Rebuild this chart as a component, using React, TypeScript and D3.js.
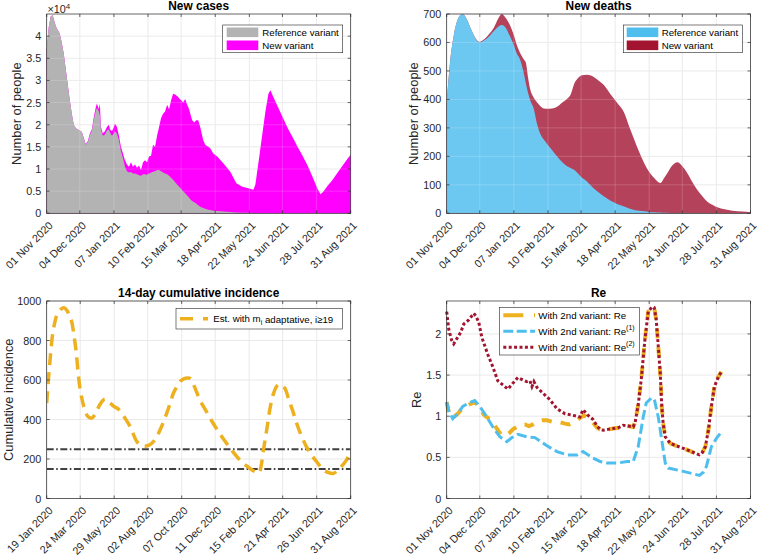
import React from 'react';
import * as d3 from 'd3';

// ---------- tick labels ----------
const casesTicks = ['01 Nov 2020', '04 Dec 2020', '07 Jan 2021', '10 Feb 2021', '15 Mar 2021', '18 Apr 2021', '22 May 2021', '24 Jun 2021', '28 Jul 2021', '31 Aug 2021'];
const incTicks = ['19 Jan 2020', '24 Mar 2020', '29 May 2020', '02 Aug 2020', '07 Oct 2020', '11 Dec 2020', '15 Feb 2021', '21 Apr 2021', '26 Jun 2021', '31 Aug 2021'];
const casesYTicks = [0, 5000, 10000, 15000, 20000, 25000, 30000, 35000, 40000];
const deathsYTicks = [0, 100, 200, 300, 400, 500, 600, 700];
const incYTicks = [0, 200, 400, 600, 800, 1000];
const reYTicks = [0, 0.5, 1, 1.5, 2];

// ---------- new cases (days since 01 Nov 2020) ----------
const casesDay = [0, 2, 4, 6, 8, 10, 13, 15, 17, 20, 23, 25, 27, 29, 32, 35, 37, 39, 41, 43, 45, 47, 49, 50, 52, 53, 54, 56, 58, 60, 62, 63, 65, 67, 68, 70, 72, 74, 76, 78, 80, 82, 84, 86, 88, 90, 92, 94, 96, 98, 100, 102, 104, 106, 108, 110, 112, 114, 116, 118, 120, 122, 124, 126, 128, 130, 132, 134, 136, 138, 140, 142, 143, 145, 147, 149, 151, 153, 156, 158, 161, 163, 166, 170, 176, 183, 189, 195, 200, 206, 208, 212, 215, 218, 221, 223, 226, 230, 235, 240, 245, 250, 255, 260, 265, 270, 273, 276, 280, 285, 290, 295, 300, 303];
const casesTotal = [37000, 42000, 44500, 44700, 43000, 41700, 40600, 38500, 36000, 30800, 25600, 22500, 20000, 19200, 18800, 18400, 17000, 15600, 16300, 18000, 19000, 21800, 24000, 24800, 23500, 24800, 19500, 18000, 18500, 19500, 20000, 19000, 18500, 19500, 20300, 19500, 17500, 15000, 13500, 12000, 11000, 10500, 11500, 10500, 11000, 10300, 10800, 9800, 11500, 12000, 11500, 12800, 13000, 15500, 15000, 17500, 19500, 21500, 22500, 23000, 24500, 23500, 25500, 27000, 26800, 26500, 26000, 25500, 25000, 25800, 24500, 23500, 22600, 21000, 20500, 21000, 21000, 19500, 16500, 15500, 15000, 14700, 13500, 12800, 11300, 9400, 6800, 6000, 5700, 5300, 6500, 13000, 18000, 23000, 27000, 27800, 26200, 24200, 21800, 19300, 17200, 15000, 13000, 10800, 8200, 5500, 4300, 5000, 6200, 7600, 9200, 10800, 12400, 13200];
const casesRef = [37000, 42000, 44500, 44700, 43000, 41700, 40600, 38500, 36000, 30800, 25600, 22500, 20000, 19200, 18800, 18400, 16900, 15500, 16100, 17700, 18700, 21300, 23200, 23800, 23000, 22000, 19000, 17500, 17800, 18700, 19000, 18300, 17500, 18000, 18500, 18000, 16500, 14000, 12500, 10500, 9500, 9200, 9300, 9000, 9000, 8800, 8600, 8500, 8800, 8800, 8700, 9000, 9200, 9400, 9500, 9800, 9800, 9500, 9200, 9000, 8800, 8500, 8000, 7600, 7000, 6500, 6000, 5500, 5000, 4500, 4000, 3500, 3200, 2800, 2500, 2200, 1800, 1500, 1200, 1000, 800, 750, 600, 500, 400, 280, 200, 150, 100, 60, 50, 40, 30, 25, 20, 15, 10, 8, 6, 5, 4, 3, 2, 2, 1, 1, 1, 1, 1, 1, 0, 0, 0, 0];

// ---------- new deaths (days since 01 Nov 2020) ----------
const deathsDay = [0, 3, 7, 10, 13, 16, 20, 25, 30, 33, 37, 43, 47, 52, 55, 58, 62, 67, 70, 73, 77, 79, 81, 83, 87, 90, 93, 97, 100, 105, 110, 115, 120, 124, 127, 131, 135, 140, 143, 147, 152, 157, 163, 170, 177, 182, 187, 192, 197, 202, 207, 213, 217, 220, 225, 230, 235, 240, 245, 250, 255, 260, 265, 270, 277, 285, 295, 303];
const deathsTotal = [382, 518, 624, 671, 694, 700, 682, 641, 609, 602, 610, 632, 652, 688, 700, 690, 668, 625, 590, 565, 540, 528, 480, 440, 405, 390, 378, 368, 367, 368, 374, 388, 402, 420, 453, 475, 485, 487, 485, 478, 465, 450, 420, 388, 353, 305, 259, 215, 176, 145, 124, 106, 125, 141, 168, 179, 165, 141, 110, 82, 60, 41, 30, 21, 14, 9, 6, 4];
const deathsRef = [382, 518, 624, 671, 694, 700, 682, 641, 607, 600, 607, 624, 640, 657, 661, 655, 630, 590, 560, 541, 490, 455, 424, 400, 365, 315, 282, 258, 244, 222, 200, 180, 165, 158, 153, 140, 125, 112, 100, 86, 72, 59, 45, 33, 24, 17, 12, 9, 7, 5, 4, 3, 2, 2, 1, 1, 1, 1, 0, 0, 0, 0, 0, 0, 0, 0, 0, 0];

// ---------- 14-day cumulative incidence (days since 19 Jan 2020) ----------
const incDay = [0, 6, 13, 22, 33, 45, 55, 65, 74, 80, 87, 95, 103, 113, 123, 131, 139, 152, 162, 175, 183, 191, 200, 207, 214, 220, 227, 233, 240, 246, 253, 259, 266, 273, 279, 287, 297, 310, 323, 336, 349, 362, 375, 388, 400, 407, 411, 414, 417, 421, 425, 429, 433, 440, 447, 451, 455, 462, 470, 478, 485, 494, 504, 514, 524, 530, 537, 546, 556, 564, 573, 582, 590];
const incValue = [483, 686, 856, 941, 966, 924, 788, 551, 449, 415, 407, 430, 475, 503, 483, 465, 453, 407, 364, 288, 270, 265, 272, 288, 315, 347, 390, 432, 485, 534, 568, 593, 606, 610, 607, 565, 500, 440, 381, 328, 280, 235, 195, 165, 142, 132, 128, 140, 178, 250, 315, 381, 450, 530, 570, 577, 575, 559, 500, 440, 381, 320, 263, 220, 186, 165, 144, 132, 127, 140, 165, 195, 245];
const incThresholds = [250, 150];

// ---------- Re (days since 01 Nov 2020) ----------
const reDay = [0, 2, 5, 7, 11, 14, 17, 22, 27, 29, 32, 35, 41, 46, 51, 56, 61, 66, 71, 76, 80, 83, 85, 87, 90, 96, 103, 110, 118, 126, 133, 136, 141, 146, 150, 153, 156, 161, 166, 171, 176, 181, 186, 188, 191, 194, 197.6, 201, 205, 207, 209, 211, 213, 214.5, 216, 218, 223, 229, 236, 244, 252, 255, 258, 261, 264, 267, 271, 274];
const re2 = [2.27, 2.06, 1.92, 1.88, 1.96, 2.02, 2.12, 2.17, 2.25, 2.22, 2.14, 1.96, 1.75, 1.6, 1.43, 1.38, 1.33, 1.4, 1.47, 1.44, 1.42, 1.43, 1.36, 1.42, 1.35, 1.28, 1.2, 1.09, 1.03, 1.01, 0.99, 1.08, 1.01, 0.96, 0.88, 0.84, 0.83, 0.84, 0.85, 0.86, 0.89, 0.88, 0.87, 0.93, 1.14, 1.44, 1.92, 2.27, 2.33, 2.32, 2.17, 1.85, 1.52, 1.12, 0.9, 0.75, 0.67, 0.64, 0.61, 0.57, 0.53, 0.56, 0.63, 0.83, 1.12, 1.36, 1.48, 1.54];
const re1Day = [0, 2, 6, 11, 16, 22, 28, 33, 40, 46, 53, 60, 65, 71, 80, 88, 93, 100, 110, 120, 130, 136, 146, 153, 160, 170, 180, 186, 191, 196, 199, 204, 207, 211, 214.5, 218, 221, 236, 252, 256, 259, 264, 269, 274];
const re1 = [1.17, 1.07, 0.97, 1.03, 1.12, 1.16, 1.19, 1.12, 0.99, 0.87, 0.75, 0.69, 0.74, 0.78, 0.75, 0.74, 0.7, 0.64, 0.57, 0.53, 0.53, 0.57, 0.49, 0.45, 0.43, 0.43, 0.45, 0.45, 0.63, 0.99, 1.16, 1.22, 1.21, 0.99, 0.71, 0.43, 0.37, 0.33, 0.28, 0.32, 0.39, 0.63, 0.73, 0.81];
const reMixDay = [0, 2, 6, 11, 16, 22, 28, 33, 37, 41, 46, 50, 54, 58, 62, 66, 70, 74, 78, 82, 86, 90, 95, 100, 106, 112, 118, 122, 128, 133, 137, 141, 146, 150, 153, 156, 161, 166, 171, 176, 181, 186, 188, 191, 194, 197.6, 201, 205, 207, 209, 211, 213, 214.5, 216, 218, 223, 229, 236, 244, 252, 255, 258, 261, 264, 267, 271, 274];
const reMix = [1.17, 1.05, 0.98, 1.03, 1.1, 1.14, 1.17, 1.1, 1.02, 0.98, 0.92, 0.85, 0.78, 0.76, 0.79, 0.84, 0.87, 0.9, 0.9, 0.88, 0.9, 0.93, 0.95, 0.95, 0.93, 0.93, 0.91, 0.9, 0.93, 0.98, 1.01, 0.98, 0.92, 0.86, 0.84, 0.83, 0.84, 0.85, 0.86, 0.89, 0.88, 0.87, 0.93, 1.14, 1.44, 1.92, 2.27, 2.33, 2.32, 2.17, 1.85, 1.52, 1.12, 0.9, 0.75, 0.67, 0.64, 0.61, 0.57, 0.53, 0.56, 0.63, 0.83, 1.12, 1.36, 1.48, 1.54];

// ---------- styling ----------
const FONT = '"Liberation Sans", Arial, Helvetica, sans-serif';
const AX = '#262626';
const GRID = '#e3e3e3';
const DAY = 86400000;
const parse = d3.utcParse('%d %b %Y');

type Rect = { l: number; r: number; t: number; b: number };

const R1: Rect = { l: 46.7, r: 350.7, t: 14, b: 213.3 };
const R2: Rect = { l: 446.7, r: 750.5, t: 14, b: 213.3 };
const R3: Rect = { l: 46.7, r: 350.7, t: 301, b: 498.5 };
const R4: Rect = { l: 446.7, r: 750.5, t: 301, b: 498.5 };

function xScale(ticks: string[], r: Rect) {
  const t = ticks.map((s) => parse(s) as Date);
  return d3.scaleUtc().domain([t[0], t[t.length - 1]]).range([r.l, r.r]);
}
function dayDate(start: string, d: number) {
  return new Date((parse(start) as Date).getTime() + d * DAY);
}

function Frame(props: {
  r: Rect; x: any; y: any; xTicks: string[]; yTicks: number[]; yFmt: (v: number) => string;
  title: string; ylabel: string; ylabelX: number; children?: any; gridTop?: boolean;
}) {
  const { r, x, y, xTicks, yTicks, yFmt, title, ylabel, ylabelX, children, gridTop } = props;
  const tickX = xTicks.map((s) => x(parse(s) as Date));
  const tl = 3;
  return (
    <g>
      <rect x={r.l} y={r.t} width={r.r - r.l} height={r.b - r.t} fill="#fff" />
      {tickX.map((px, i) => (
        <line key={'gx' + i} x1={px} x2={px} y1={r.t} y2={r.b} stroke={GRID} strokeWidth={0.8} />
      ))}
      {yTicks.map((v, i) => (
        <line key={'gy' + i} x1={r.l} x2={r.r} y1={y(v)} y2={y(v)} stroke={GRID} strokeWidth={0.8} />
      ))}
      {children}
      {gridTop && tickX.map((px, i) => (
        <line key={'gt' + i} x1={px} x2={px} y1={r.t} y2={r.b} stroke="#fff" strokeOpacity={0.22} strokeWidth={0.8} />
      ))}
      {gridTop && yTicks.map((v, i) => (
        <line key={'gty' + i} x1={r.l} x2={r.r} y1={y(v)} y2={y(v)} stroke="#fff" strokeOpacity={0.22} strokeWidth={0.8} />
      ))}
      <rect x={r.l} y={r.t} width={r.r - r.l} height={r.b - r.t} fill="none" stroke={AX} strokeWidth={0.7} />
      {tickX.map((px, i) => (
        <g key={'tx' + i}>
          <line x1={px} x2={px} y1={r.b} y2={r.b - tl} stroke={AX} strokeWidth={0.7} />
          <line x1={px} x2={px} y1={r.t} y2={r.t + tl} stroke={AX} strokeWidth={0.7} />
          <text
            transform={`translate(${px + 4},${r.b + 10}) rotate(-45)`}
            textAnchor="end"
            dominantBaseline="central"
            fontSize={10.8}
            fontFamily={FONT}
            fill={AX}
          >
            {xTicks[i]}
          </text>
        </g>
      ))}
      {yTicks.map((v, i) => (
        <g key={'ty' + i}>
          <line x1={r.l} x2={r.l + tl} y1={y(v)} y2={y(v)} stroke={AX} strokeWidth={0.7} />
          <line x1={r.r} x2={r.r - tl} y1={y(v)} y2={y(v)} stroke={AX} strokeWidth={0.7} />
          <text x={r.l - 5.5} y={y(v)} textAnchor="end" dominantBaseline="central" fontSize={10.8} fontFamily={FONT} fill={AX}>
            {yFmt(v)}
          </text>
        </g>
      ))}
      <text x={(r.l + r.r) / 2} y={r.t - 4.3} textAnchor="middle" fontSize={11.9} fontWeight="bold" fontFamily={FONT} fill="#000">
        {title}
      </text>
      <text
        transform={`translate(${ylabelX},${(r.t + r.b) / 2}) rotate(-90)`}
        textAnchor="middle"
        fontSize={12.9}
        fontFamily={FONT}
        fill={AX}
      >
        {ylabel}
      </text>
    </g>
  );
}

function Legend(props: { x: number; y: number; w: number; h: number; children?: any }) {
  return (
    <g>
      <rect x={props.x} y={props.y} width={props.w} height={props.h} fill="#fff" stroke={AX} strokeWidth={0.6} />
      {props.children}
    </g>
  );
}

export default function App() {
  // ---- panel 1 ----
  const x1 = xScale(casesTicks, R1);
  const y1 = d3.scaleLinear().domain([0, 45000]).range([R1.b, R1.t]);
  const casesTotalArea = d3.area<number>()
    .x((_, i) => x1(dayDate(casesTicks[0], casesDay[i])))
    .y0(R1.b)
    .y1((v) => y1(v))(casesTotal) as string;
  const casesRefArea = d3.area<number>()
    .x((_, i) => x1(dayDate(casesTicks[0], casesDay[i])))
    .y0(R1.b)
    .y1((v) => y1(v))(casesRef) as string;

  // ---- panel 2 ----
  const x2 = xScale(casesTicks, R2);
  const y2 = d3.scaleLinear().domain([0, 700]).range([R2.b, R2.t]);
  const deathsTotalArea = d3.area<number>()
    .x((_, i) => x2(dayDate(casesTicks[0], deathsDay[i])))
    .y0(R2.b)
    .y1((v) => y2(v))
    .curve(d3.curveMonotoneX)(deathsTotal) as string;
  const deathsRefArea = d3.area<number>()
    .x((_, i) => x2(dayDate(casesTicks[0], deathsDay[i])))
    .y0(R2.b)
    .y1((v) => y2(v))
    .curve(d3.curveMonotoneX)(deathsRef) as string;

  // ---- panel 3 ----
  const x3 = xScale(incTicks, R3);
  const y3 = d3.scaleLinear().domain([0, 1000]).range([R3.b, R3.t]);
  const incLine = d3.line<number>()
    .x((_, i) => x3(dayDate(incTicks[0], incDay[i])))
    .y((v) => y3(v))
    .curve(d3.curveCatmullRom)(incValue) as string;

  // ---- panel 4 ----
  const x4 = xScale(casesTicks, R4);
  const y4 = d3.scaleLinear().domain([0, 2.4]).range([R4.b, R4.t]);
  const mk = (days: number[]) => d3.line<number>()
    .x((_, i) => x4(dayDate(casesTicks[0], days[i])))
    .y((v) => y4(v));
  const reMixLine = mk(reMixDay)(reMix) as string;
  const re1Line = mk(re1Day)(re1) as string;
  const re2Line = mk(reDay)(re2) as string;

  const ORANGE = '#EDB120';
  const BLUE = '#4DBEEE';
  const RED = '#A2142F';

  return (
    <svg width={760} height={557} style={{ position: 'absolute', left: 0, top: 0, background: '#fff' }} fontFamily={FONT}>
      <rect x={0} y={0} width={760} height={557} fill="#fff" />

      {/* Panel 1 */}
      <Frame r={R1} x={x1} y={y1} xTicks={casesTicks} yTicks={casesYTicks} yFmt={(v) => d3.format('~g')(v / 10000)}
        title="New cases" ylabel="Number of people" ylabelX={21} gridTop>
        <path d={casesTotalArea} fill="#ff00ff" />
        <path d={casesRefArea} fill="#b3b3b3" />
      </Frame>
      <text x={47.5} y={13} fontSize={10.8} fill={AX}>×10<tspan dy={-4.5} fontSize={8}>4</tspan></text>
      <Legend x={222.7} y={25} w={120} h={27.7}>
        <rect x={226.7} y={27.5} width={31.6} height={9.6} fill="#b3b3b3" />
        <rect x={226.7} y={40.5} width={31.6} height={9.6} fill="#ff00ff" />
        <text x={262.3} y={32.3} dominantBaseline="central" fontSize={9.7} fill="#000">Reference variant</text>
        <text x={262.3} y={45.3} dominantBaseline="central" fontSize={9.7} fill="#000">New variant</text>
      </Legend>

      {/* Panel 2 */}
      <Frame r={R2} x={x2} y={y2} xTicks={casesTicks} yTicks={deathsYTicks} yFmt={(v) => String(v)}
        title="New deaths" ylabel="Number of people" ylabelX={417.5} gridTop>
        <path d={deathsTotalArea} fill="#b5425b" />
        <path d={deathsRefArea} fill="#6dc8f1" />
      </Frame>
      <Legend x={623.3} y={25} w={119} h={27.7}>
        <rect x={626.7} y={27.5} width={31.6} height={9.6} fill="#4DBEEE" />
        <rect x={626.7} y={40.5} width={31.6} height={9.6} fill="#A2142F" />
        <text x={661.7} y={32.3} dominantBaseline="central" fontSize={9.7} fill="#000">Reference variant</text>
        <text x={661.7} y={45.3} dominantBaseline="central" fontSize={9.7} fill="#000">New variant</text>
      </Legend>

      {/* Panel 3 */}
      <Frame r={R3} x={x3} y={y3} xTicks={incTicks} yTicks={incYTicks} yFmt={(v) => String(v)}
        title="14-day cumulative incidence" ylabel="Cumulative incidence" ylabelX={12.6}>
        <defs>
          <clipPath id="clip3"><rect x={R3.l} y={R3.t} width={R3.r - R3.l} height={R3.b - R3.t} /></clipPath>
        </defs>
        <g clipPath="url(#clip3)">
          {incThresholds.map((v, i) => (
            <line key={i} x1={R3.l} x2={R3.r} y1={y3(v)} y2={y3(v)} stroke="#404040" strokeWidth={2} strokeDasharray="7,2.5,1.6,2.5" />
          ))}
          <path d={incLine} fill="none" stroke={ORANGE} strokeWidth={3.5} strokeDasharray="12,7" />
        </g>
      </Frame>
      <Legend x={176} y={308.3} w={166.3} h={20.7}>
        <line x1={180} x2={208} y1={318.7} y2={318.7} stroke={ORANGE} strokeWidth={3.5} strokeDasharray="13,10" />
        <text x={213.3} y={318.7} dominantBaseline="central" fontSize={9.7} fill="#000">
          Est. with m<tspan dy={3} fontSize={7}>i</tspan><tspan dy={-3}> adaptative, i≥19</tspan>
        </text>
      </Legend>

      {/* Panel 4 */}
      <Frame r={R4} x={x4} y={y4} xTicks={casesTicks} yTicks={reYTicks} yFmt={(v) => String(v)}
        title="Re" ylabel="Re" ylabelX={421}>
        <path d={reMixLine} fill="none" stroke={ORANGE} strokeWidth={4} strokeDasharray="10,9" />
        <path d={re1Line} fill="none" stroke={BLUE} strokeWidth={3} strokeDasharray="10,4" />
        <path d={re2Line} fill="none" stroke={RED} strokeWidth={3} strokeDasharray="3,2.4" />
      </Frame>
      <Legend x={499.3} y={307.3} w={140} h={47.7}>
        <line x1={503.3} x2={535} y1={315.3} y2={315.3} stroke={ORANGE} strokeWidth={4} strokeDasharray="20,10.7" />
        <line x1={503.3} x2={535} y1={331.3} y2={331.3} stroke={BLUE} strokeWidth={3} strokeDasharray="10,3.4" />
        <line x1={503.3} x2={535} y1={347.3} y2={347.3} stroke={RED} strokeWidth={3} strokeDasharray="3,2.4" />
        <text x={538.3} y={315.3} dominantBaseline="central" fontSize={9.7} fill="#000">With 2nd variant: Re</text>
        <text x={538.3} y={331.3} dominantBaseline="central" fontSize={9.7} fill="#000">
          With 2nd variant: Re<tspan dy={-4} fontSize={7}>(1)</tspan>
        </text>
        <text x={538.3} y={347.3} dominantBaseline="central" fontSize={9.7} fill="#000">
          With 2nd variant: Re<tspan dy={-4} fontSize={7}>(2)</tspan>
        </text>
      </Legend>
    </svg>
  );
}
